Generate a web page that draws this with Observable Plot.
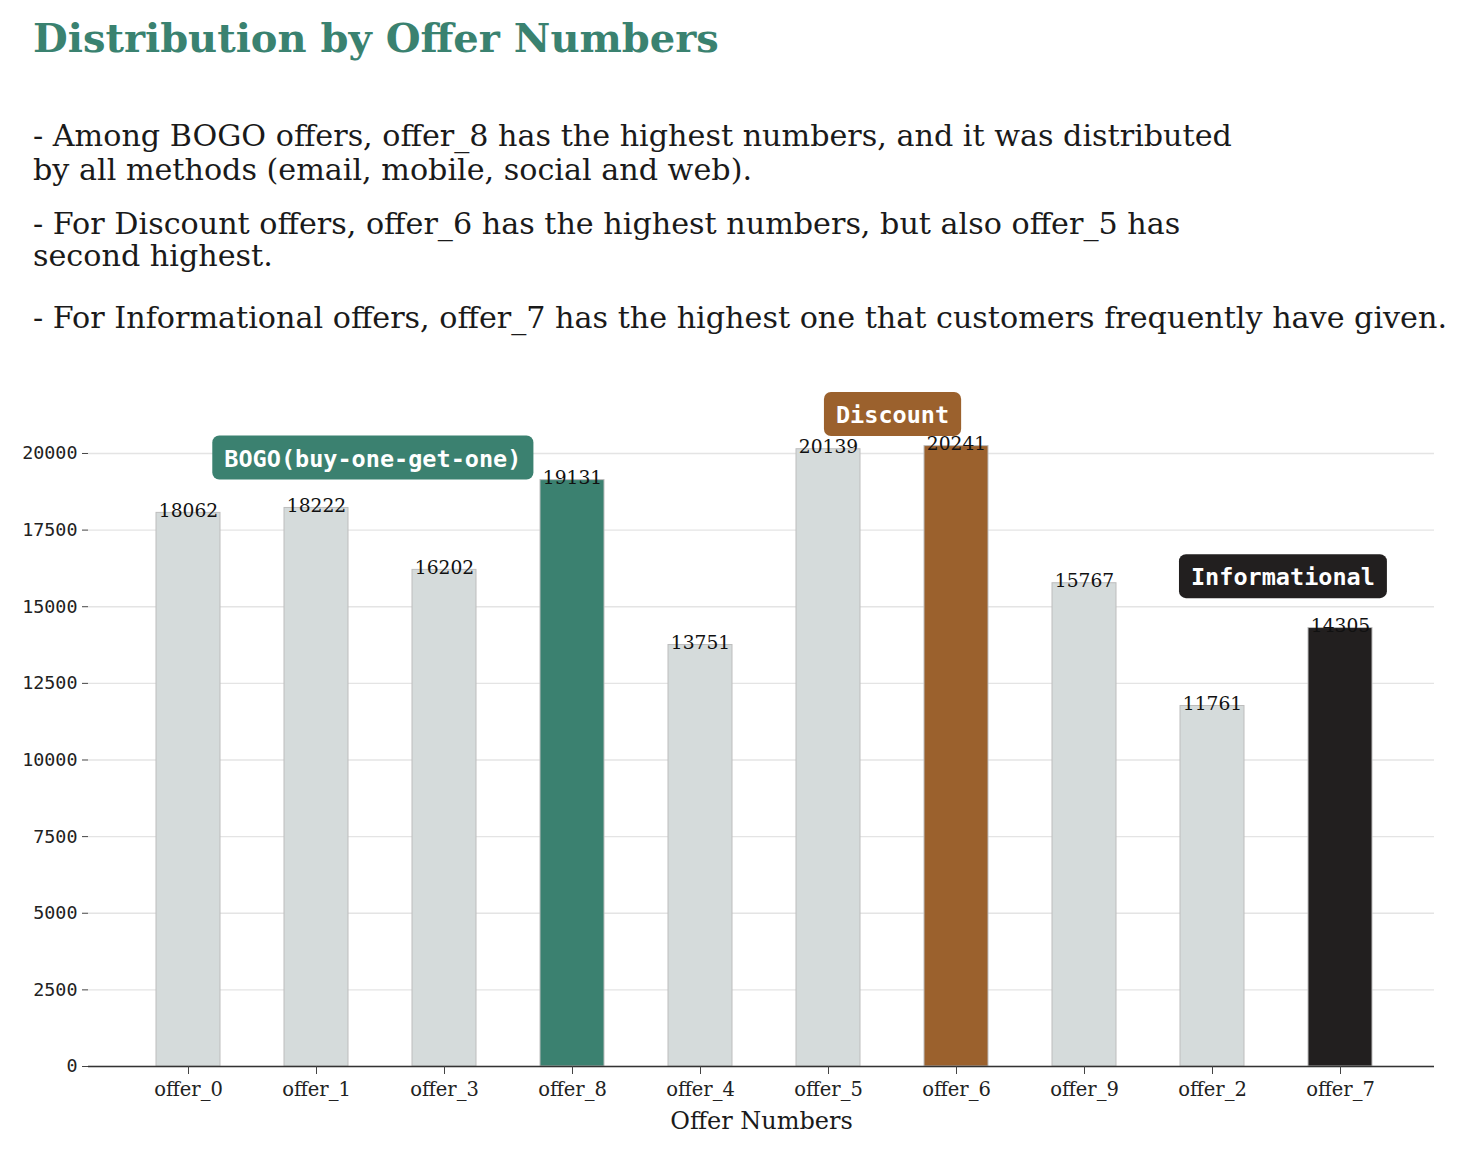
<!DOCTYPE html>
<html><head><meta charset="utf-8">
<script src="https://cdn.jsdelivr.net/npm/d3@7"></script>
<script src="https://cdn.jsdelivr.net/npm/@observablehq/plot@0.6"></script>
<style>
html,body{margin:0;padding:0;background:#fff;overflow:hidden;}
#page{position:relative;width:1474px;height:1155px;overflow:hidden;background:#fff;}
.t{position:absolute;white-space:pre;font-family:"DejaVu Serif";line-height:1;color:#1a1a1a;}
#chart{position:absolute;left:0;top:380px;}
</style></head><body>
<div id="page"></div>
<script>
// ---- data ----
const offers = ["offer_0","offer_1","offer_3","offer_8","offer_4","offer_5","offer_6","offer_9","offer_2","offer_7"];
const counts = [18062,18222,16202,19131,13751,20139,20241,15767,11761,14305];
const barGroup = ["other","other","other","BOGO","other","other","Discount","other","other","Informational"];
const groupNames = ["other","BOGO","Discount","Informational"];
const groupColors = ["#d5dbdb","#3b8170","#9b612d","#221f1f"];
const yTicks = [0,2500,5000,7500,10000,12500,15000,17500,20000];
const annotLabels = ["BOGO(buy-one-get-one)","Discount","Informational"];
const annotGroup = ["BOGO","Discount","Informational"];
const annotAnchor = ["offer_1","offer_5","offer_2"];
const annotShift = [0.44,0.5,0.55];
const annotY = [19820,21240,15950];
const title = "Distribution by Offer Numbers";
const subtitleLines = [
  "- Among BOGO offers, offer_8 has the highest numbers, and it was distributed",
  "by all methods (email, mobile, social and web).",
  "- For Discount offers, offer_6 has the highest numbers, but also offer_5 has",
  "second highest.",
  "- For Informational offers, offer_7 has the highest one that customers frequently have given."
];
const subtitleBaselines = [147,181,235,267,329];
const xLabel = "Offer Numbers";

// ---- layout ----
const W = 1474;
const ml = 88, mr = 40;
const padInner = 0.5, padOuter = 0.505;
const step = (W - ml - mr) / (offers.length - padInner + 2 * padOuter);
const colorOf = g => groupColors[groupNames.indexOf(g)];

const page = document.getElementById("page");

const tdiv = document.createElement("div");
tdiv.className = "t";
tdiv.textContent = title;
Object.assign(tdiv.style, {left: "33px", top: (52 - 0.846 * 40) + "px", fontSize: "40px", fontWeight: "bold", color: "#3a8270"});
page.appendChild(tdiv);

subtitleLines.forEach((line, i) => {
  const d = document.createElement("div");
  d.className = "t";
  d.textContent = line;
  Object.assign(d.style, {left: "33px", top: (subtitleBaselines[i] - 0.846 * 30.2) + "px", fontSize: "30.2px"});
  page.appendChild(d);
});

const data = offers.map((o, i) => ({offer: o, count: counts[i], group: barGroup[i]}));

const annotMarks = annotLabels.map((lab, i) =>
  Plot.text([{offer: annotAnchor[i], y: annotY[i], label: lab}], {
    x: "offer", y: "y", text: "label", dx: annotShift[i] * step,
    fill: "#ffffff", fontFamily: "DejaVu Sans Mono", fontWeight: "bold", fontSize: 23.5,
    lineAnchor: "middle", textAnchor: "middle"
  })
);

const chart = Plot.plot({
  width: W, height: 775,
  marginLeft: ml, marginRight: mr, marginTop: 27, marginBottom: 89,
  style: {background: "transparent", fontFamily: "DejaVu Serif", color: "#222", overflow: "visible"},
  x: {domain: offers, paddingInner: padInner, paddingOuter: padOuter, align: 0.52},
  y: {domain: [0, 21500]},
  marks: [
    Plot.gridY(yTicks, {stroke: "#e4e4e4", strokeOpacity: 1, strokeWidth: 1.4}),
    Plot.barY(data, {x: "offer", y: "count", fill: d => colorOf(d.group), stroke: "#bdbdbd", strokeWidth: 1}),
    Plot.ruleY([0], {stroke: "#333", strokeWidth: 1.6}),
    Plot.axisY({ticks: yTicks, tickFormat: d => String(d), tickSize: 6, tickPadding: 5,
      fontFamily: "DejaVu Sans Mono", fontSize: 18.4, stroke: "#444", fill: "#222", label: null}),
    Plot.axisX({tickSize: 8, tickPadding: 8, fontFamily: "DejaVu Serif", fontSize: 19.5, stroke: "#444", fill: "#222", label: null}),
    Plot.text([xLabel], {frameAnchor: "bottom", dy: 62, fontSize: 24, fontFamily: "DejaVu Serif", fill: "#1a1a1a", lineAnchor: "bottom"}),
    Plot.text(data, {x: "offer", y: "count", text: d => String(d.count), dy: -2, fontSize: 18.7,
      fontFamily: "DejaVu Serif", fill: "#111", lineAnchor: "middle"}),
    ...annotMarks
  ]
});
const holder = document.createElement("div");
holder.id = "chart";
holder.appendChild(chart);
page.appendChild(holder);

// rounded background boxes behind the annotation labels
chart.querySelectorAll("text").forEach(t => {
  const i = annotLabels.indexOf(t.textContent);
  if (i < 0) return;
  const bb = t.getBBox();
  const padX = 12, h = 44;
  const rect = document.createElementNS("http://www.w3.org/2000/svg", "rect");
  rect.setAttribute("x", bb.x - padX);
  rect.setAttribute("y", bb.y + bb.height / 2 - h / 2 - 1);
  rect.setAttribute("width", bb.width + 2 * padX);
  rect.setAttribute("height", h);
  rect.setAttribute("rx", 7);
  rect.setAttribute("ry", 7);
  rect.setAttribute("fill", colorOf(annotGroup[i]));
  const tr = t.getAttribute("transform");
  if (tr) rect.setAttribute("transform", tr);
  t.parentNode.insertBefore(rect, t);
});
</script>
</body></html>
